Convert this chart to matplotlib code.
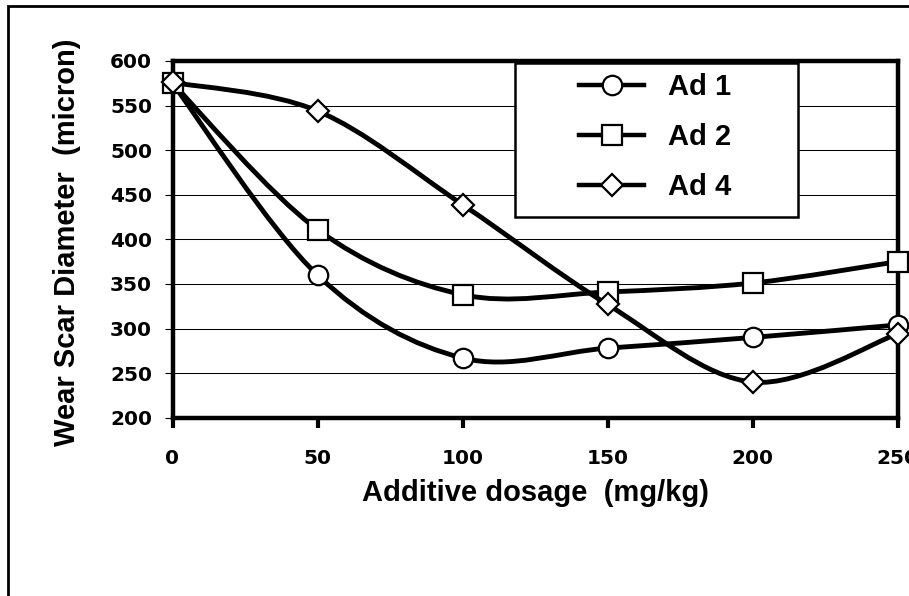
import matplotlib
matplotlib.use('Agg')
import matplotlib.pyplot as plt
import numpy as np
from matplotlib.path import Path
from matplotlib.patches import PathPatch, Rectangle
from matplotlib.lines import Line2D
from matplotlib.font_manager import FontProperties

# values
dosage = [0, 50, 100, 150, 200, 250]
ad1 = [575, 360, 267, 278, 290, 304]
ad2 = [575, 411, 338, 341, 351, 375]
ad4 = [576, 544, 439, 327, 240, 294]
series = [ad1, ad2, ad4]
names = ['Ad 1', 'Ad 2', 'Ad 4']
markers = ['o', 's', 'D']
msizes = [14, 14, 11]

x_ticks = [0, 50, 100, 150, 200, 250]
y_ticks = [200, 250, 300, 350, 400, 450, 500, 550, 600]

W, H = 909, 596
tick_font = FontProperties(family='DejaVu Sans', weight='bold', size=14.5)
title_font = FontProperties(family='Liberation Sans', weight='bold', size=21)


def smooth_path(x, y):
    # excel style smoothed line: cubic bezier through the points
    pts = np.column_stack([x, y]).astype(float)
    n = len(pts)
    verts = [pts[0]]
    codes = [Path.MOVETO]
    for i in range(n - 1):
        p0 = pts[max(i - 1, 0)]
        p1 = pts[i]
        p2 = pts[i + 1]
        p3 = pts[min(i + 2, n - 1)]
        verts += [p1 + (p2 - p0) / 6, p2 - (p3 - p1) / 6, p2]
        codes += [Path.CURVE4] * 3
    return Path(verts, codes)


fig = plt.figure(figsize=(W / 100, H / 100), dpi=100)
ax = fig.add_axes([172.5 / W, 1 - 417.7 / H, 725 / W, (417.7 - 61) / H])
ax.set_xlim(0, 250)
ax.set_ylim(200, 600)

for i, (vals, mk, ms) in enumerate(zip(series, markers, msizes)):
    z = 3 + i * 0.2
    ax.add_patch(PathPatch(smooth_path(dosage, vals), facecolor='none', edgecolor='black',
                           lw=3.5, zorder=z, clip_on=False, capstyle='round', joinstyle='round'))
    ax.plot(dosage, vals, linestyle='none', marker=mk, ms=ms, mfc='white', mec='black',
            mew=1.6, zorder=z + 0.1, clip_on=False)

# grid and frame
ax.yaxis.grid(True, color='black', lw=0.75)
ax.set_axisbelow(True)
for s in ax.spines.values():
    s.set_linewidth(3.2)
    s.set_color('black')

ax.set_xticks(x_ticks)
ax.set_xticklabels([str(v) for v in x_ticks], fontproperties=tick_font)
ax.set_yticks(y_ticks)
ax.set_yticklabels([str(v) for v in y_ticks], fontproperties=tick_font)
ax.tick_params(axis='x', direction='out', length=7, width=3, pad=15.5, color='black')
ax.tick_params(axis='y', direction='out', length=6, width=0.8, pad=8.8, color='black')

# legend
handles = [Line2D([], [], color='black', lw=3.2, marker=mk, ms=ms, mfc='white', mec='black', mew=1.6)
           for mk, ms in zip(markers, msizes)]
ax.add_patch(Rectangle((515 / W, 1 - 217 / H), (798 - 515) / W, (217 - 63) / H,
                       transform=fig.transFigure, facecolor='white', edgecolor='black',
                       lw=1.8, zorder=4.5, clip_on=False))
leg = ax.legend(handles, names, loc='center left', bbox_to_anchor=(579 / W, 1 - 137.3 / H),
                bbox_transform=fig.transFigure, frameon=False, borderpad=0, borderaxespad=0,
                handlelength=2.23, handletextpad=0.82, labelspacing=0.75, prop=title_font)
leg.set_zorder(5)

# axis titles
fig.text(536 / W, 1 - 493 / H, 'Additive dosage  (mg/kg)', fontproperties=title_font,
         ha='center', va='center')
fig.text(67 / W, 1 - 242 / H, 'Wear Scar Diameter  (micron)', fontproperties=title_font,
         ha='center', va='center', rotation=90)

# outer chart border (cut off on right and bottom)
fig.add_artist(Rectangle((8 / W, -0.2), 2, 1.2 - 6 / H, transform=fig.transFigure,
                         fill=False, edgecolor='black', lw=2, clip_on=False))

fig.savefig('out.png', dpi=100)
